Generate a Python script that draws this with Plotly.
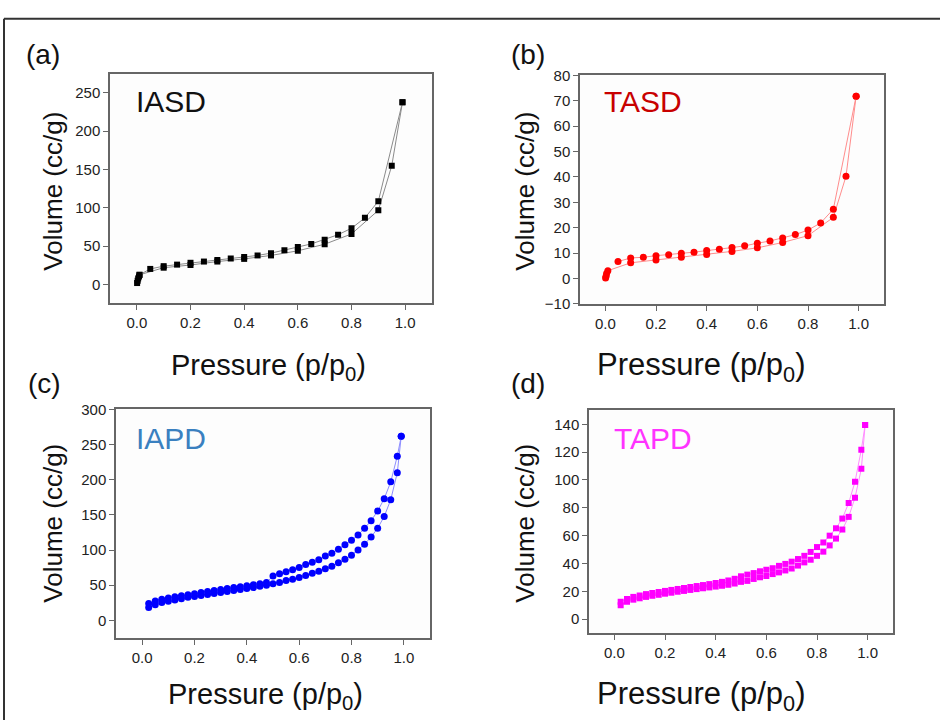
import plotly.graph_objects as go

W, H = 940, 728

# ---------------- data ----------------
iasd_ads_x = [0.001, 0.003, 0.005, 0.008, 0.01, 0.1, 0.2, 0.3, 0.4, 0.5, 0.6, 0.7, 0.8, 0.9, 0.95, 0.99]
iasd_ads_y = [2, 5, 8, 10.5, 12.7, 22, 25.5, 30, 33.5, 38, 44, 52.6, 66, 96.8, 155, 237.7]
iasd_des_x = [0.99, 0.9, 0.85, 0.8, 0.75, 0.7, 0.65, 0.6, 0.55, 0.5, 0.45, 0.4, 0.35, 0.3, 0.25, 0.2, 0.15, 0.1, 0.05, 0.01]
iasd_des_y = [237.7, 108.7, 87, 73.4, 65, 58.6, 53, 49, 44.6, 41, 38, 36, 34, 32, 30, 28.4, 26, 24, 20.4, 12.7]

tasd_ads_x = [0.001, 0.003, 0.005, 0.01, 0.1, 0.2, 0.3, 0.4, 0.5, 0.6, 0.7, 0.8, 0.9, 0.95, 0.99]
tasd_ads_y = [0.2, 0.9, 2.0, 3.1, 6.2, 7.3, 8.4, 9.5, 10.7, 12.1, 14.2, 16.9, 24.1, 40.3, 71.8]
tasd_des_x = [0.99, 0.9, 0.85, 0.8, 0.75, 0.7, 0.65, 0.6, 0.55, 0.5, 0.45, 0.4, 0.35, 0.3, 0.25, 0.2, 0.15, 0.1, 0.05]
tasd_des_y = [71.8, 27.3, 21.9, 19.1, 17.3, 16.0, 14.8, 13.9, 12.9, 12.2, 11.5, 11.0, 10.4, 10.0, 9.4, 9.0, 8.4, 8.1, 6.7]

grid_x = [0.025, 0.05, 0.075, 0.1, 0.125, 0.15, 0.175, 0.2, 0.225, 0.25,
          0.275, 0.3, 0.325, 0.35, 0.375, 0.4, 0.425, 0.45, 0.475, 0.5,
          0.525, 0.55, 0.575, 0.6, 0.625, 0.65, 0.675, 0.7, 0.725, 0.75,
          0.775, 0.8, 0.825, 0.85, 0.875, 0.9, 0.925, 0.95, 0.975]
p_end = [0.99]

iapd_ads_y = [18.5, 22.2, 25.4, 27.2, 29.1, 30.9, 32.8, 34.1, 35.5, 36.9,
              38.3, 39.7, 41.1, 42.5, 43.8, 45.2, 46.6, 48.5, 49.8, 52.1,
              54.0, 56.8, 58.6, 60.9, 63.7, 66.9, 69.7, 73.4, 77.1, 82.1,
              86.8, 92.8, 100.1, 108.4, 118.6, 131.1, 147.7, 171.7, 210.0, 261.7]
iapd_des_y = [261.7, 233.5, 197.0, 173.0, 155.5, 141.7, 131.1, 121.4, 114.0, 107.5,
              101.1, 95.5, 91.4, 86.3, 82.6, 79.4, 75.2, 72.0, 69.2, 66.4,
              63.2, 54.0, 52.1, 50.8, 49.4, 48.0, 46.6, 45.2, 43.8, 42.5,
              41.1, 39.7, 37.8, 36.5, 35.1, 33.7, 31.8, 30.0, 27.7, 24.0]

tapd_ads_y = [10.0, 12.5, 14.0, 15.0, 16.0, 16.8, 17.5, 18.3, 19.0, 19.7,
              20.3, 21.0, 21.6, 22.2, 22.8, 23.4, 24.0, 24.7, 25.6, 26.8,
              27.5, 28.9, 30.1, 31.0, 32.4, 33.6, 35.0, 36.4, 38.5, 40.8,
              42.7, 45.5, 48.5, 53.0, 57.9, 64.4, 73.5, 87.3, 108.0, 139.5]
tapd_des_y = [139.5, 121.8, 98.7, 83.5, 72.3, 65.3, 60.0, 55.1, 51.8, 48.3,
              45.5, 43.2, 41.3, 39.7, 38.3, 36.6, 35.5, 34.4, 33.1, 32.0,
              30.8, 29.0, 27.8, 26.8, 26.0, 25.2, 24.5, 23.8, 23.1, 22.4,
              21.7, 21.0, 20.3, 19.5, 18.8, 18.0, 17.0, 16.0, 14.5, 12.5]

panel_labels = ["(a)", "(b)", "(c)", "(d)"]
sample_names = ["IASD", "TASD", "IAPD", "TAPD"]
y_ticks = [[0, 50, 100, 150, 200, 250],
           [-10, 0, 10, 20, 30, 40, 50, 60, 70, 80],
           [0, 50, 100, 150, 200, 250, 300],
           [0, 20, 40, 60, 80, 100, 120, 140]]
x_ticks = [0.0, 0.2, 0.4, 0.6, 0.8, 1.0]
x_tick_text = ["0.0", "0.2", "0.4", "0.6", "0.8", "1.0"]

# ---------------- styles / layout ----------------
FONT = "Liberation Sans, Arial, sans-serif"
# plot boxes in pixels: left, right, top, bottom
boxes = [(110, 432, 67, 301), (580, 884, 68, 302), (116, 430, 410, 644), (589, 893, 411, 639)]
y_ranges = [[-24, 274], [-10, 80], [-25, 300], [-10, 150]]
marker_cols = ["#000000", "#ff0000", "#0000ff", "#ff00ff"]
line_cols = ["#8a8a8a", "#ff8c8c", "#8c8cff", "#ff8cff"]
label_cols = ["#111111", "#c80000", "#3a80c0", "#ff33ff"]
symbols = ["square", "circle", "circle", "square"]
msizes = [6, 7, 7, 6]

series = [
    [(iasd_ads_x, iasd_ads_y), (iasd_des_x, iasd_des_y)],
    [(tasd_ads_x, tasd_ads_y), (tasd_des_x, tasd_des_y)],
    [(grid_x + p_end, iapd_ads_y), (p_end + grid_x[::-1], iapd_des_y)],
    [(grid_x + p_end, tapd_ads_y), (p_end + grid_x[::-1], tapd_des_y)],
]

def px(x):
    return x / W

def py(y):
    return 1 - y / H

fig = go.Figure()
layout = dict(width=W, height=H, margin=dict(l=0, r=0, t=0, b=0),
              paper_bgcolor="white", plot_bgcolor="#fdfdfd", showlegend=False,
              font=dict(family=FONT, color="#222222"))
annotations = []

for i in range(4):
    ax = "" if i == 0 else str(i + 1)
    l, r, t, b = boxes[i]
    for (xs, ys) in series[i]:
        fig.add_trace(go.Scatter(
            x=xs, y=ys, mode="lines+markers", xaxis="x" + ax, yaxis="y" + ax,
            line=dict(color=line_cols[i], width=1),
            marker=dict(symbol=symbols[i], size=msizes[i], color=marker_cols[i],
                        line=dict(width=0))))
    common = dict(showgrid=False, zeroline=False, showline=True, linecolor="#666666",
                  linewidth=1.5, mirror=True, ticks="outside", ticklen=5,
                  tickcolor="#666666", tickwidth=1.2,
                  tickfont=dict(size=15, family=FONT, color="#222222"))
    layout["xaxis" + ax] = dict(domain=[px(l), px(r)], range=[-0.1, 1.1],
                                anchor="y" + ax, tickvals=x_ticks, ticktext=x_tick_text,
                                **common)
    layout["yaxis" + ax] = dict(domain=[py(b), py(t)], range=y_ranges[i],
                                anchor="x" + ax, tickvals=y_ticks[i], **common)

# panel letters, sample names, axis titles
letter_pos = [(43, 47), (528, 47), (44, 383), (528, 383)]
name_pos = [(134, 95), (602, 95), (134, 440), (612, 440)]
ytitle_pos = [(53, 187), (525, 187), (53, 527), (525, 527)]
xtitle_pos = [(268, 367), (701, 367), (265, 703), (701, 703)]
xtitle_size = [29, 31, 29, 31]

for i in range(4):
    annotations.append(dict(text=panel_labels[i], x=px(letter_pos[i][0]), y=py(letter_pos[i][1]),
                            xref="paper", yref="paper", showarrow=False,
                            xanchor="center", yanchor="middle",
                            font=dict(size=28, family=FONT, color="#111111")))
    annotations.append(dict(text=sample_names[i], x=px(name_pos[i][0]), y=py(name_pos[i][1]),
                            xref="paper", yref="paper", showarrow=False,
                            xanchor="left", yanchor="middle",
                            font=dict(size=30, family=FONT, color=label_cols[i])))
    annotations.append(dict(text="Volume (cc/g)", x=px(ytitle_pos[i][0]), y=py(ytitle_pos[i][1]),
                            xref="paper", yref="paper", showarrow=False, textangle=-90,
                            xanchor="center", yanchor="middle",
                            font=dict(size=26, family=FONT, color="#111111")))
    annotations.append(dict(text="Pressure (p/p<sub>0</sub>)", x=px(xtitle_pos[i][0]),
                            y=py(xtitle_pos[i][1]),
                            xref="paper", yref="paper", showarrow=False,
                            xanchor="center", yanchor="middle",
                            font=dict(size=xtitle_size[i], family=FONT, color="#111111")))

layout["annotations"] = annotations
layout["shapes"] = [
    dict(type="line", xref="paper", yref="paper", x0=px(4), x1=1, y0=py(10), y1=py(10),
         line=dict(color="#333333", width=2)),
    dict(type="line", xref="paper", yref="paper", x0=px(4), x1=px(4), y0=py(10), y1=0,
         line=dict(color="#333333", width=2)),
]
fig.update_layout(**layout)
fig.write_html("out.html")
